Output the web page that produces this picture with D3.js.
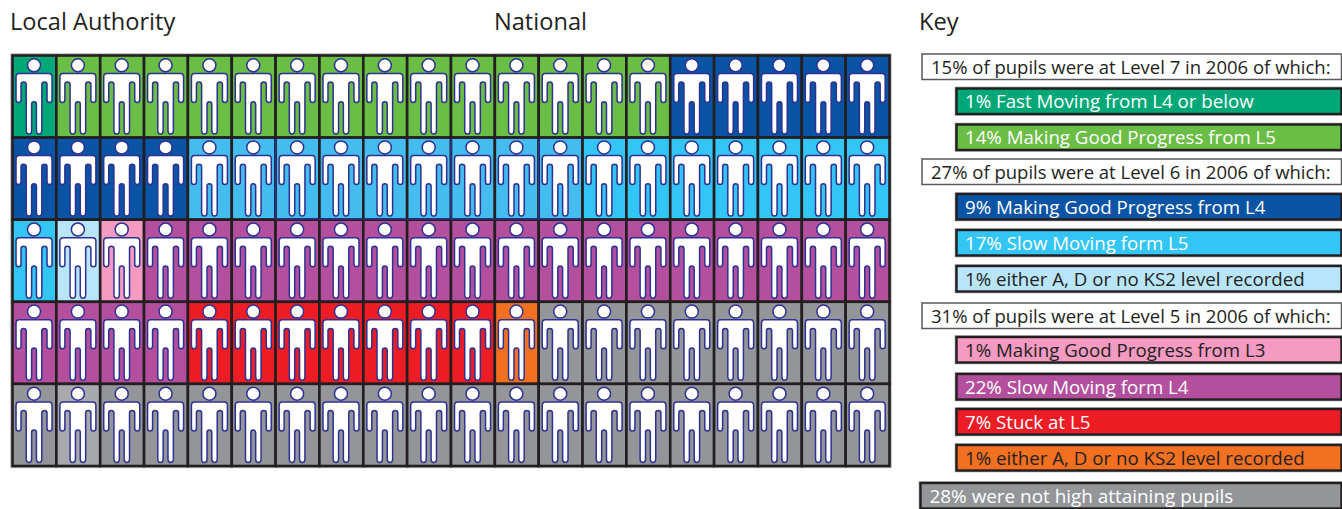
<!DOCTYPE html>
<html><head><meta charset="utf-8">
<script src="https://cdn.jsdelivr.net/npm/d3@7"></script>
<style>html,body{margin:0;padding:0;background:#fff}svg{display:block}text{font-family:"Open Sans",sans-serif}</style>
</head><body><div id="c"></div>
<script>
const segments = ["fast","goodL5","goodL4","slowL5a","slowL5","noneL6","goodL3","slowL4","stuck","noneL5","notHigh"];
const counts = [1,14,9,9,8,1,1,21,7,1,28];
const colors = ["#00a878","#6abd45","#0a54a5","#45bcee","#33c5f4","#b9e5fb","#f59ac1","#b34f9d","#ee1c25","#f37021","#939598"];
const paleCell = 81, paleColor = "#a7a9ac";
const navyLeftCells = [26,30,32];
const navyBottomCells = [26,27,28,29,30,31,32];
const headings = ["Local Authority","National","Key"];
const keyLabels = [
 "15% of pupils were at Level 7 in 2006 of which:",
 "1% Fast Moving from L4 or below",
 "14% Making Good Progress from L5",
 "27% of pupils were at Level 6 in 2006 of which:",
 "9% Making Good Progress from L4",
 "17% Slow Moving form L5",
 "1% either A, D or no KS2 level recorded",
 "31% of pupils were at Level 5 in 2006 of which:",
 "1% Making Good Progress from L3",
 "22% Slow Moving form L4",
 "7% Stuck at L5",
 "1% either A, D or no KS2 level recorded",
 "28% were not high attaining pupils"];
const keyKinds = ["head","fast","goodL5","head","goodL4","slowL5","noneL6","head","goodL3","slowL4","stuck","noneL5","notHigh"];
const keyDarkText = ["noneL6","goodL3","noneL5"];

const W=1342,H=509;
const svg=d3.select("#c").append("svg").attr("width",W).attr("height",H);
const color=d3.scaleOrdinal(segments,colors);
const cells=segments.flatMap((s,i)=>d3.range(counts[i]).map(()=>s));
const cols=d3.range(20), rows=d3.range(5);
const x=d3.scaleBand(cols,[12.5,889.5]);
const y=d3.scaleBand(rows,[55.5,466]);
const bw=x.bandwidth(), bh=y.bandwidth();

svg.selectAll(".h").data(headings).join("text").attr("class","h")
 .attr("x",(d,i)=>[10,494,919][i]).attr("y",30).attr("font-size",23.6).attr("fill","#231f20").text(d=>d);

svg.append("rect").attr("x",12.5).attr("y",55.5).attr("width",877).attr("height",410.5)
 .attr("fill","none").attr("stroke","#b5b5b5").attr("stroke-width",4.4);

const person="M6.5,9.8 a6.5,6.5 0 1,1 -13,0 a6.5,6.5 0 1,1 13,0 Z "+
 "M-15,18 H15 Q18,18 18,21.5 V44.5 Q18,47 15.5,47 Q13,47 13,44.5 V29 Q13,26.6 10.5,26.6 Q7.8,26.6 7.8,29 V75 Q7.8,78.5 5,78.5 Q2.4,78.5 2.4,75 V48.5 Q2.4,46.2 0,46.2 Q-2.4,46.2 -2.4,48.5 V75 Q-2.4,78.5 -5,78.5 Q-7.8,78.5 -7.8,75 V29 Q-7.8,26.6 -10.5,26.6 Q-13,26.6 -13,29 V44.5 Q-13,47 -15.5,47 Q-18,47 -18,44.5 V21.5 Q-18,18 -15,18 Z";
const g=svg.selectAll(".cell").data(cells).join("g").attr("class","cell")
 .attr("transform",(d,i)=>`translate(${x(i%20)},${y(Math.floor(i/20))})`);
g.append("rect").attr("width",bw).attr("height",bh)
 .attr("fill",(d,i)=>i===paleCell?paleColor:color(d)).attr("stroke","#231f20").attr("stroke-width",2.6);
g.append("path").attr("d",person).attr("transform",`translate(${bw/2-0.4},0)`)
 .attr("fill","#fff").attr("stroke","#2e3192").attr("stroke-width",1.5);

svg.selectAll(".nl").data(navyLeftCells).join("line").attr("class","nl")
 .attr("x1",i=>x(i%20)).attr("x2",i=>x(i%20))
 .attr("y1",i=>y(Math.floor(i/20))+1.3).attr("y2",i=>y(Math.floor(i/20))+bh)
 .attr("stroke","#2e3192").attr("stroke-width",1.6);
svg.selectAll(".nb").data(navyBottomCells).join("line").attr("class","nb")
 .attr("x1",i=>x(i%20)).attr("x2",i=>x(i%20)+bw)
 .attr("y1",i=>y(Math.floor(i/20))+bh-0.6).attr("y2",i=>y(Math.floor(i/20))+bh-0.6)
 .attr("stroke","#2e3192").attr("stroke-width",1.2);

const keyTop=[54,88.5,124.5,159,194,230,266,303,337,374,409,445,483];
const keyLeft=k=>k==="head"?922:k==="notHigh"?920.5:956.5;
const keyX=d3.scaleLinear().domain([0,1]).range([0,W]);
const kg=svg.selectAll(".key").data(keyLabels).join("g").attr("class","key")
 .attr("transform",(d,i)=>`translate(${keyLeft(keyKinds[i])},${keyTop[i]})`);
const kw=(d,i)=>keyX(1)-keyLeft(keyKinds[i])-0.5;
kg.filter((d,i)=>keyKinds[i]!=="head").append("rect").attr("width",function(d){const i=keyLabels.indexOf(d);return kw(d,i)}).attr("height",25.5)
 .attr("fill","none").attr("stroke","#aaa").attr("stroke-width",3.6);
kg.append("rect").attr("width",kw).attr("height",25.5)
 .attr("fill",(d,i)=>keyKinds[i]==="head"?"#fff":color(keyKinds[i]))
 .attr("stroke",(d,i)=>keyKinds[i]==="head"?"#58595b":"#231f20").attr("stroke-width",(d,i)=>keyKinds[i]==="head"?1.5:2.4);
kg.append("text").attr("x",(d,i)=>keyKinds[i]==="head"?9:keyKinds[i]==="notHigh"?9:8.5).attr("y",19.5)
 .attr("font-size",(d,i)=>keyKinds[i]==="head"?18.5:keyKinds[i]==="notHigh"?18.9:18.7)
 .attr("fill",(d,i)=>keyKinds[i]==="head"||keyDarkText.includes(keyKinds[i])?"#231f20":"#fff").text(d=>d);
</script></body></html>
